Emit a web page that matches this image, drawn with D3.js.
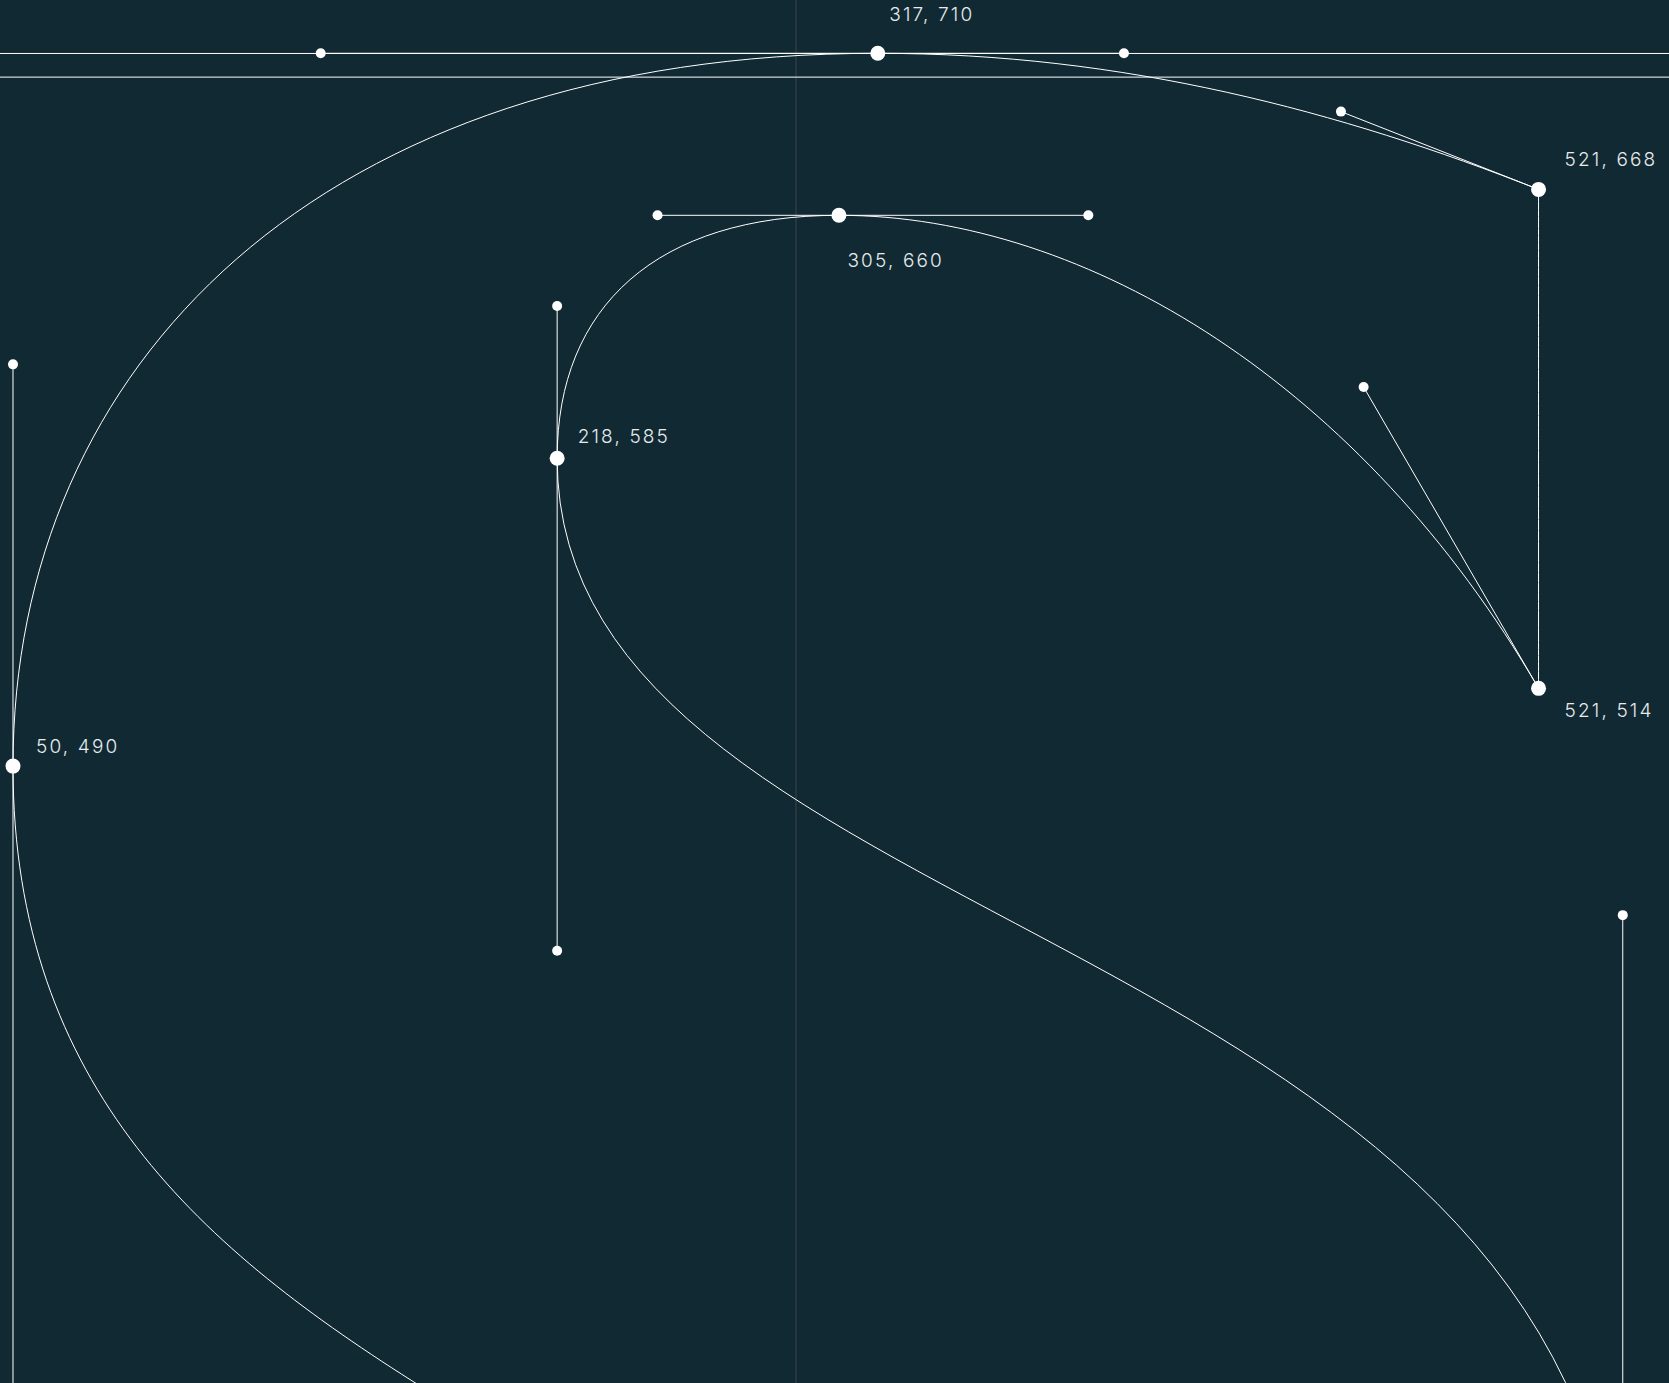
<!DOCTYPE html>
<html>
<head>
<meta charset="utf-8">
<script src="https://cdn.jsdelivr.net/npm/d3@7"></script>
<style>
html, body { margin: 0; padding: 0; background: #112933; overflow: hidden; }
svg { display: block; }
text { font-family: Inter, sans-serif; font-size: 19px; font-weight: 300; letter-spacing: 2.15px; fill: #e6ebec; }
</style>
</head>
<body>
<div id="chart"></div>
<script>
const WIDTH = 1669;
const HEIGHT = 1383;

// font units
const hGuides = [709.95, 702.65];
const vGuides = [291.75];

const nodeX = [317, 521, 521, 305, 218, 50];
const nodeY = [710, 668, 514, 660, 585, 490];
const nodeLabels = ['317, 710', '521, 668', '521, 514', '305, 660', '218, 585', '50, 490'];

// handles as [node x, node y, handle x, handle y]
const handles = [
  [317, 710, 145, 710],
  [317, 710, 393, 710],
  [521, 668, 460, 692],
  [521, 514, 467, 607],
  [305, 660, 249, 660],
  [305, 660, 382, 660],
  [218, 585, 218, 632],
  [218, 585, 218, 433],
  [50, 490, 50, 614],
  [50, 490, 50, 280],
  [547, 217, 547, 444]
];

// glyph outline: start point then cubic segments (c1x, c1y, c2x, c2y, x, y)
const outlineStart = [50, 490];
const outlineCurves = [
  [50, 614, 145, 710, 317, 710],
  [393, 710, 460, 692, 521, 668],
  [521, 668, 521, 514, 521, 514],
  [467, 607, 382, 660, 305, 660],
  [249, 660, 218, 632, 218, 585],
  [218, 433, 547, 444, 547, 217]
];
// lower bowl, runs off the bottom of the picture
const bowlStart = [50, 490];
const bowlCurve = [50, 390, 110, 340, 176, 298.5];

const x = d3.scaleLinear().domain([0, 1000]).range([-148.95, 3090]);
const y = d3.scaleLinear().domain([0, 1000]).range([2353.7, -886.3]);

const svg = d3.select('#chart')
  .append('svg')
    .attr('width', WIDTH)
    .attr('height', HEIGHT)
    .attr('viewBox', `0 0 ${WIDTH} ${HEIGHT}`);

svg.append('rect')
  .attr('width', WIDTH)
  .attr('height', HEIGHT)
  .attr('fill', '#112933');

// guides
svg.selectAll('.vguide')
  .data(vGuides)
  .enter().append('line')
    .attr('class', 'vguide')
    .attr('x1', d => x(d))
    .attr('x2', d => x(d))
    .attr('y1', 0)
    .attr('y2', HEIGHT)
    .attr('stroke', '#27373f')
    .attr('stroke-width', 2);

svg.selectAll('.hguide')
  .data(hGuides)
  .enter().append('line')
    .attr('class', 'hguide')
    .attr('x1', 0)
    .attr('x2', WIDTH)
    .attr('y1', d => y(d))
    .attr('y2', d => y(d))
    .attr('stroke', '#fff')
    .attr('stroke-width', 1);

// outline
const outline = d3.path();
outline.moveTo(x(outlineStart[0]), y(outlineStart[1]));
outlineCurves.forEach(c => {
  outline.bezierCurveTo(x(c[0]), y(c[1]), x(c[2]), y(c[3]), x(c[4]), y(c[5]));
});
outline.moveTo(x(bowlStart[0]), y(bowlStart[1]));
outline.bezierCurveTo(x(bowlCurve[0]), y(bowlCurve[1]), x(bowlCurve[2]), y(bowlCurve[3]), x(bowlCurve[4]), y(bowlCurve[5]));

svg.append('path')
  .attr('d', outline.toString())
  .attr('fill', 'none')
  .attr('stroke', '#fff')
  .attr('stroke-width', 1);

// handle lines and points
svg.selectAll('.handle-line')
  .data(handles)
  .enter().append('line')
    .attr('class', 'handle-line')
    .attr('x1', d => x(d[0]))
    .attr('y1', d => y(d[1]))
    .attr('x2', d => x(d[2]))
    .attr('y2', d => y(d[3]))
    .attr('stroke', '#fff')
    .attr('stroke-width', 1);

svg.selectAll('.handle-point')
  .data(handles)
  .enter().append('circle')
    .attr('class', 'handle-point')
    .attr('cx', d => x(d[2]))
    .attr('cy', d => y(d[3]))
    .attr('r', 5)
    .attr('fill', '#fff');

svg.selectAll('.node')
  .data(nodeX)
  .enter().append('circle')
    .attr('class', 'node')
    .attr('cx', d => x(d))
    .attr('cy', (d, i) => y(nodeY[i]))
    .attr('r', 7.5)
    .attr('fill', '#fff');

// labels sit off their nodes by hand, same order as nodeLabels
const labelDx = [11.5, 26, 26, 8.5, 20.5, 23];
const labelDy = [-32.5, -23, 29, 51.5, -15.5, -13];

svg.selectAll('.node-label')
  .data(nodeLabels)
  .enter().append('text')
    .attr('class', 'node-label')
    .attr('x', (d, i) => x(nodeX[i]) + labelDx[i])
    .attr('y', (d, i) => y(nodeY[i]) + labelDy[i])
    .text(d => d);
</script>
</body>
</html>
